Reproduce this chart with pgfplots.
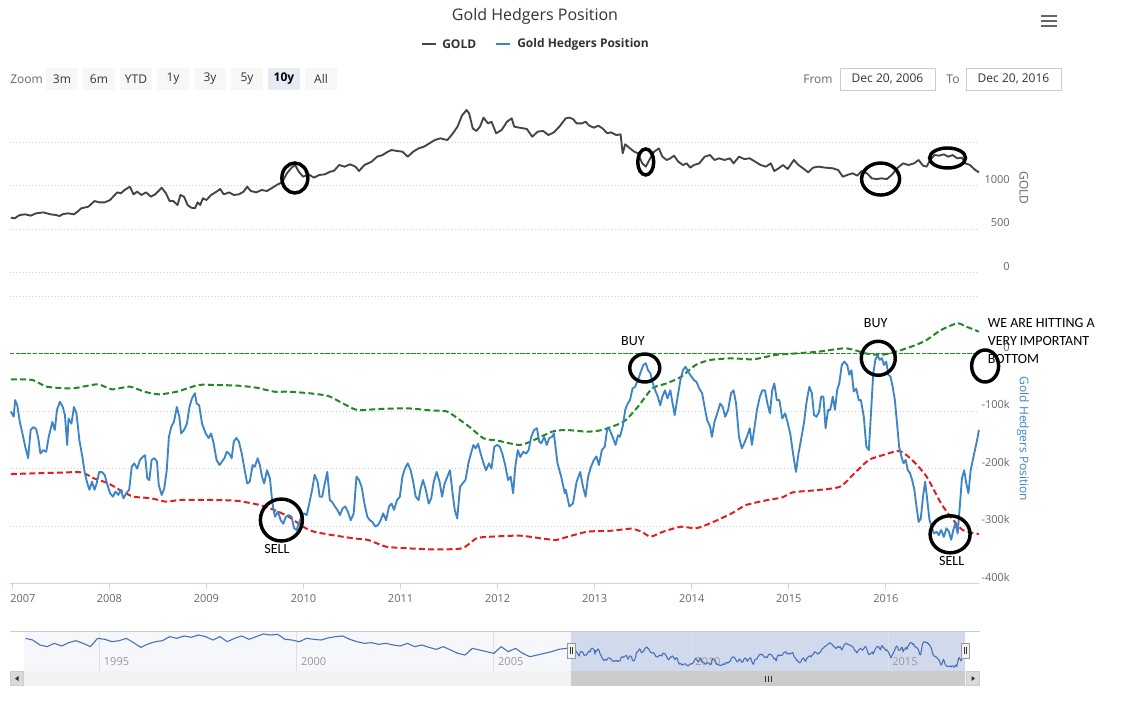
\documentclass[border=0pt]{standalone}
\usepackage{pgfplots}
\pgfplotsset{compat=1.18}
\usepackage{pgfplotstable}
\usepackage{fontspec}
\setmainfont{Open Sans}
\newfontfamily\carlito{Carlito}

\definecolor{titlecol}{HTML}{333333}
\definecolor{labcol}{HTML}{666666}
\definecolor{gridcol}{HTML}{D0D0D0}
\definecolor{navgrid}{HTML}{E0E0E0}
\definecolor{navlab}{HTML}{999999}
\definecolor{goldcol}{HTML}{434348}
\definecolor{hedgecol}{RGB}{61,133,198}
\definecolor{greenband}{RGB}{34,136,34}
\definecolor{zerocol}{RGB}{25,150,25}
\definecolor{redband}{RGB}{226,30,36}
\definecolor{navline}{RGB}{70,110,185}
\definecolor{navsel}{RGB}{209,218,237}
\definecolor{navun}{RGB}{245,247,251}
\definecolor{axiscol}{HTML}{CCD6EB}
\definecolor{btncol}{HTML}{F7F7F7}
\definecolor{btnsel}{HTML}{E6EBF5}
\definecolor{scrollbg}{HTML}{F2F2F2}
\definecolor{thumbcol}{HTML}{CCCCCC}
\definecolor{bordcol}{HTML}{CCCCCC}

% x = years since 2000
\pgfplotstableread[row sep=\\]{
t v\\
6.985 631\\ 7.022 623\\ 7.077 662\\ 7.133 669\\ 7.189 654\\ 7.245 681\\ 7.319 692\\ 7.394 669\\ 7.449 662\\ 7.486 650\\ 7.524 673\\ 7.579 681\\ 7.635 669\\ 7.672 700\\ 7.710 739\\ 7.784 758\\ 7.847 823\\ 7.895 808\\ 7.951 808\\ 8.007 835\\ 8.055 893\\ 8.081 923\\ 8.119 912\\ 8.156 950\\ 8.211 989\\ 8.249 900\\ 8.286 931\\ 8.330 893\\ 8.379 923\\ 8.427 873\\ 8.472 900\\ 8.539 977\\ 8.583 912\\ 8.620 823\\ 8.658 823\\ 8.702 777\\ 8.732 893\\ 8.769 873\\ 8.806 777\\ 8.843 746\\ 8.881 739\\ 8.910 808\\ 8.936 777\\ 8.963 854\\ 9.000 835\\ 9.048 893\\ 9.104 931\\ 9.141 962\\ 9.178 900\\ 9.234 923\\ 9.282 893\\ 9.334 900\\ 9.383 931\\ 9.420 989\\ 9.457 939\\ 9.513 923\\ 9.568 950\\ 9.624 939\\ 9.680 977\\ 9.736 1016\\ 9.780 1039\\ 9.829 1143\\ 9.877 1208\\ 9.914 1239\\ 9.951 1162\\ 9.996 1104\\ 10.052 1131\\ 10.108 1093\\ 10.163 1124\\ 10.219 1131\\ 10.275 1162\\ 10.312 1170\\ 10.368 1239\\ 10.424 1220\\ 10.479 1247\\ 10.535 1220\\ 10.572 1170\\ 10.628 1239\\ 10.702 1277\\ 10.758 1335\\ 10.814 1354\\ 10.870 1393\\ 10.907 1412\\ 10.963 1401\\ 11.019 1393\\ 11.074 1335\\ 11.130 1393\\ 11.186 1431\\ 11.242 1451\\ 11.297 1489\\ 11.353 1527\\ 11.409 1547\\ 11.483 1527\\ 11.539 1605\\ 11.587 1682\\ 11.632 1809\\ 11.680 1874\\ 11.706 1836\\ 11.744 1662\\ 11.781 1632\\ 11.818 1682\\ 11.855 1786\\ 11.900 1720\\ 11.937 1739\\ 11.985 1605\\ 12.041 1643\\ 12.097 1739\\ 12.145 1778\\ 12.171 1682\\ 12.227 1670\\ 12.301 1655\\ 12.357 1566\\ 12.413 1624\\ 12.469 1632\\ 12.524 1585\\ 12.580 1616\\ 12.636 1682\\ 12.702 1778\\ 12.739 1786\\ 12.776 1770\\ 12.814 1720\\ 12.869 1720\\ 12.906 1739\\ 12.944 1693\\ 12.992 1670\\ 13.037 1693\\ 13.081 1662\\ 13.130 1605\\ 13.167 1616\\ 13.223 1585\\ 13.267 1593\\ 13.289 1374\\ 13.315 1478\\ 13.364 1431\\ 13.408 1393\\ 13.446 1374\\ 13.490 1258\\ 13.527 1220\\ 13.576 1324\\ 13.613 1393\\ 13.661 1431\\ 13.698 1335\\ 13.743 1297\\ 13.780 1316\\ 13.817 1347\\ 13.862 1277\\ 13.910 1239\\ 13.948 1258\\ 13.985 1208\\ 14.022 1239\\ 14.078 1258\\ 14.133 1335\\ 14.189 1354\\ 14.234 1297\\ 14.282 1316\\ 14.338 1297\\ 14.394 1316\\ 14.431 1258\\ 14.487 1335\\ 14.542 1308\\ 14.598 1316\\ 14.654 1277\\ 14.710 1239\\ 14.765 1220\\ 14.814 1258\\ 14.851 1170\\ 14.896 1201\\ 14.940 1239\\ 14.989 1193\\ 15.052 1297\\ 15.100 1239\\ 15.156 1193\\ 15.200 1154\\ 15.249 1208\\ 15.305 1220\\ 15.379 1208\\ 15.453 1201\\ 15.509 1181\\ 15.557 1104\\ 15.602 1124\\ 15.658 1143\\ 15.706 1116\\ 15.751 1170\\ 15.806 1143\\ 15.855 1085\\ 15.907 1077\\ 15.955 1085\\ 16.011 1077\\ 16.067 1131\\ 16.115 1201\\ 16.178 1258\\ 16.234 1239\\ 16.290 1258\\ 16.338 1297\\ 16.383 1231\\ 16.420 1220\\ 16.457 1297\\ 16.502 1354\\ 16.550 1347\\ 16.598 1362\\ 16.643 1335\\ 16.688 1354\\ 16.736 1316\\ 16.784 1324\\ 16.821 1258\\ 16.866 1239\\ 16.922 1181\\ 16.959 1154\\
}\golddata

\pgfplotstableread[row sep=\\]{
t v\\
6.985 -101\\ 7.014 -110\\ 7.029 -81\\ 7.051 -90\\ 7.077 -119\\ 7.104 -139\\ 7.133 -162\\ 7.163 -182\\ 7.189 -133\\ 7.215 -128\\ 7.245 -131\\ 7.267 -147\\ 7.289 -174\\ 7.319 -168\\ 7.349 -171\\ 7.375 -145\\ 7.412 -119\\ 7.438 -133\\ 7.460 -98\\ 7.490 -84\\ 7.520 -93\\ 7.542 -107\\ 7.565 -159\\ 7.579 -113\\ 7.609 -122\\ 7.635 -93\\ 7.661 -104\\ 7.691 -151\\ 7.721 -179\\ 7.747 -208\\ 7.773 -226\\ 7.795 -237\\ 7.821 -223\\ 7.847 -237\\ 7.869 -226\\ 7.895 -206\\ 7.921 -206\\ 7.951 -211\\ 7.981 -229\\ 8.007 -243\\ 8.037 -249\\ 8.063 -240\\ 8.092 -246\\ 8.118 -237\\ 8.145 -252\\ 8.174 -243\\ 8.204 -237\\ 8.230 -197\\ 8.256 -191\\ 8.286 -200\\ 8.316 -185\\ 8.342 -180\\ 8.368 -177\\ 8.390 -217\\ 8.412 -220\\ 8.435 -185\\ 8.464 -182\\ 8.490 -188\\ 8.509 -229\\ 8.539 -246\\ 8.565 -235\\ 8.591 -203\\ 8.613 -145\\ 8.639 -127\\ 8.665 -119\\ 8.695 -93\\ 8.721 -110\\ 8.739 -139\\ 8.769 -133\\ 8.799 -122\\ 8.825 -93\\ 8.851 -78\\ 8.881 -69\\ 8.899 -87\\ 8.925 -90\\ 8.955 -122\\ 8.992 -139\\ 9.022 -147\\ 9.048 -139\\ 9.074 -156\\ 9.104 -185\\ 9.134 -194\\ 9.160 -188\\ 9.186 -182\\ 9.208 -171\\ 9.234 -174\\ 9.260 -182\\ 9.282 -153\\ 9.308 -147\\ 9.334 -153\\ 9.364 -174\\ 9.394 -203\\ 9.420 -226\\ 9.446 -223\\ 9.476 -194\\ 9.498 -197\\ 9.528 -182\\ 9.550 -194\\ 9.572 -214\\ 9.595 -226\\ 9.624 -203\\ 9.654 -217\\ 9.680 -261\\ 9.706 -284\\ 9.736 -275\\ 9.766 -290\\ 9.792 -296\\ 9.818 -284\\ 9.847 -281\\ 9.877 -284\\ 9.903 -304\\ 9.929 -307\\ 9.951 -296\\ 9.978 -284\\ 10.004 -278\\ 10.033 -281\\ 10.059 -261\\ 10.089 -237\\ 10.115 -211\\ 10.145 -223\\ 10.167 -249\\ 10.193 -249\\ 10.219 -226\\ 10.245 -206\\ 10.271 -255\\ 10.294 -258\\ 10.323 -266\\ 10.349 -272\\ 10.375 -281\\ 10.405 -269\\ 10.431 -266\\ 10.457 -275\\ 10.487 -290\\ 10.517 -278\\ 10.546 -214\\ 10.572 -220\\ 10.599 -232\\ 10.628 -261\\ 10.658 -284\\ 10.684 -290\\ 10.710 -293\\ 10.740 -301\\ 10.769 -298\\ 10.795 -290\\ 10.821 -278\\ 10.851 -290\\ 10.881 -266\\ 10.907 -261\\ 10.933 -272\\ 10.963 -255\\ 10.993 -249\\ 11.019 -214\\ 11.045 -200\\ 11.074 -191\\ 11.104 -203\\ 11.130 -223\\ 11.156 -249\\ 11.186 -255\\ 11.204 -237\\ 11.231 -220\\ 11.260 -237\\ 11.290 -261\\ 11.316 -252\\ 11.342 -223\\ 11.372 -206\\ 11.402 -223\\ 11.428 -249\\ 11.454 -226\\ 11.483 -214\\ 11.509 -203\\ 11.532 -237\\ 11.558 -272\\ 11.584 -287\\ 11.613 -232\\ 11.639 -226\\ 11.669 -220\\ 11.699 -191\\ 11.725 -174\\ 11.751 -159\\ 11.773 -165\\ 11.799 -157\\ 11.825 -174\\ 11.855 -191\\ 11.881 -203\\ 11.911 -191\\ 11.937 -200\\ 11.966 -162\\ 11.996 -159\\ 12.022 -162\\ 12.048 -174\\ 12.078 -194\\ 12.108 -220\\ 12.134 -214\\ 12.160 -243\\ 12.182 -197\\ 12.208 -168\\ 12.234 -180\\ 12.264 -171\\ 12.294 -174\\ 12.320 -168\\ 12.346 -145\\ 12.376 -133\\ 12.405 -130\\ 12.428 -153\\ 12.450 -156\\ 12.480 -145\\ 12.506 -159\\ 12.532 -147\\ 12.561 -145\\ 12.580 -139\\ 12.617 -191\\ 12.655 -214\\ 12.692 -243\\ 12.702 -237\\ 12.739 -266\\ 12.776 -261\\ 12.814 -223\\ 12.851 -206\\ 12.880 -232\\ 12.906 -249\\ 12.933 -214\\ 12.962 -197\\ 12.992 -185\\ 13.018 -179\\ 13.044 -194\\ 13.074 -168\\ 13.104 -162\\ 13.130 -130\\ 13.156 -133\\ 13.185 -145\\ 13.215 -159\\ 13.241 -142\\ 13.260 -145\\ 13.289 -127\\ 13.315 -98\\ 13.341 -87\\ 13.364 -81\\ 13.390 -61\\ 13.416 -58\\ 13.446 -46\\ 13.475 -32\\ 13.501 -20\\ 13.527 -17\\ 13.550 -29\\ 13.576 -35\\ 13.594 -49\\ 13.624 -64\\ 13.650 -75\\ 13.676 -90\\ 13.698 -75\\ 13.724 -64\\ 13.750 -78\\ 13.780 -64\\ 13.803 -87\\ 13.825 -107\\ 13.855 -75\\ 13.884 -46\\ 13.910 -29\\ 13.936 -23\\ 13.966 -32\\ 13.996 -40\\ 14.022 -46\\ 14.048 -49\\ 14.078 -61\\ 14.107 -69\\ 14.133 -93\\ 14.159 -116\\ 14.189 -127\\ 14.208 -145\\ 14.234 -119\\ 14.263 -104\\ 14.293 -87\\ 14.319 -93\\ 14.345 -110\\ 14.375 -98\\ 14.405 -69\\ 14.431 -64\\ 14.457 -87\\ 14.487 -145\\ 14.516 -165\\ 14.542 -156\\ 14.568 -145\\ 14.598 -130\\ 14.620 -159\\ 14.643 -133\\ 14.672 -98\\ 14.702 -75\\ 14.728 -64\\ 14.754 -64\\ 14.784 -90\\ 14.806 -104\\ 14.829 -64\\ 14.851 -52\\ 14.877 -81\\ 14.903 -81\\ 14.933 -113\\ 14.963 -104\\ 14.989 -121\\ 15.015 -139\\ 15.044 -174\\ 15.074 -206\\ 15.100 -174\\ 15.126 -150\\ 15.156 -121\\ 15.186 -81\\ 15.212 -58\\ 15.238 -69\\ 15.260 -107\\ 15.286 -110\\ 15.312 -101\\ 15.334 -75\\ 15.357 -75\\ 15.379 -130\\ 15.405 -98\\ 15.427 -98\\ 15.453 -75\\ 15.476 -98\\ 15.498 -64\\ 15.520 -52\\ 15.546 -20\\ 15.572 -14\\ 15.602 -20\\ 15.624 -37\\ 15.646 -29\\ 15.669 -66\\ 15.695 -61\\ 15.721 -81\\ 15.743 -81\\ 15.773 -110\\ 15.799 -162\\ 15.825 -168\\ 15.847 -104\\ 15.870 -35\\ 15.892 -11\\ 15.914 -3\\ 15.937 -11\\ 15.959 -8\\ 15.981 -20\\ 16.004 -14\\ 16.026 -37\\ 16.048 -40\\ 16.070 -58\\ 16.093 -81\\ 16.115 -121\\ 16.137 -162\\ 16.160 -179\\ 16.182 -191\\ 16.204 -185\\ 16.227 -203\\ 16.249 -208\\ 16.271 -220\\ 16.294 -237\\ 16.316 -266\\ 16.338 -293\\ 16.360 -287\\ 16.383 -249\\ 16.405 -223\\ 16.427 -255\\ 16.450 -290\\ 16.472 -301\\ 16.494 -313\\ 16.524 -310\\ 16.546 -316\\ 16.569 -307\\ 16.598 -319\\ 16.624 -304\\ 16.650 -310\\ 16.673 -324\\ 16.695 -307\\ 16.717 -295\\ 16.740 -313\\ 16.762 -266\\ 16.784 -217\\ 16.807 -203\\ 16.829 -226\\ 16.851 -243\\ 16.874 -203\\ 16.896 -185\\ 16.918 -168\\ 16.941 -150\\ 16.959 -133\\
}\hedgedata

\pgfplotstableread[row sep=\\]{
t v\\
6.985 -44.9\\ 7.208 -46.1\\ 7.356 -57.7\\ 7.617 -60.6\\ 7.877 -53.6\\ 8.026 -62.3\\ 8.211 -57.7\\ 8.360 -66.4\\ 8.509 -71.0\\ 8.695 -66.4\\ 8.918 -54.8\\ 9.104 -54.8\\ 9.327 -55.9\\ 9.513 -59.4\\ 9.699 -66.4\\ 9.847 -66.4\\ 10.070 -69.3\\ 10.256 -73.9\\ 10.405 -86.7\\ 10.554 -98.3\\ 10.777 -96.5\\ 11.074 -95.4\\ 11.335 -99.4\\ 11.483 -101.2\\ 11.706 -127.2\\ 11.855 -147.5\\ 12.004 -151.6\\ 12.227 -159.1\\ 12.376 -150.4\\ 12.561 -135.9\\ 12.703 -133.0\\ 12.925 -135.9\\ 13.074 -133.0\\ 13.297 -118.6\\ 13.446 -92.5\\ 13.594 -60.6\\ 13.743 -51.9\\ 13.892 -40.3\\ 14.040 -20.0\\ 14.189 -11.3\\ 14.412 -8.4\\ 14.635 -10.1\\ 14.858 -2.6\\ 15.082 0.3\\ 15.305 3.2\\ 15.565 9.0\\ 15.676 6.1\\ 15.788 0.3\\ 15.937 -2.6\\ 16.048 0.3\\ 16.160 6.1\\ 16.309 14.8\\ 16.420 23.5\\ 16.569 40.9\\ 16.736 52.5\\ 16.829 46.7\\ 16.959 38.0\\
}\greendata

\pgfplotstableread[row sep=\\]{
t v\\
6.985 -209.6\\ 7.245 -208.4\\ 7.468 -207.3\\ 7.710 -206.7\\ 7.840 -217.1\\ 7.988 -225.8\\ 8.137 -240.3\\ 8.249 -249.0\\ 8.435 -251.9\\ 8.583 -257.7\\ 8.732 -254.8\\ 9.104 -254.8\\ 9.327 -256.5\\ 9.550 -263.5\\ 9.699 -272.2\\ 9.847 -283.8\\ 9.996 -301.2\\ 10.107 -309.9\\ 10.294 -315.7\\ 10.517 -321.5\\ 10.665 -324.3\\ 10.851 -335.9\\ 11.074 -338.8\\ 11.335 -340.6\\ 11.632 -338.8\\ 11.781 -321.5\\ 11.930 -318.6\\ 12.227 -316.8\\ 12.450 -321.5\\ 12.599 -324.3\\ 12.702 -319.7\\ 12.925 -309.9\\ 13.185 -308.1\\ 13.371 -304.6\\ 13.483 -309.9\\ 13.576 -318.6\\ 13.706 -309.9\\ 13.892 -301.2\\ 14.040 -304.1\\ 14.189 -295.4\\ 14.412 -278.0\\ 14.561 -263.5\\ 14.784 -254.8\\ 14.933 -250.2\\ 15.044 -241.4\\ 15.305 -237.4\\ 15.528 -231.6\\ 15.676 -208.4\\ 15.825 -185.2\\ 15.974 -176.5\\ 16.141 -169.6\\ 16.271 -185.2\\ 16.420 -214.2\\ 16.569 -260.6\\ 16.680 -286.7\\ 16.792 -307.0\\ 16.959 -313.9\\
}\reddata

\pgfplotstableread[row sep=\\]{
t v\\
-6.882 39\\ -6.699 18\\ -6.517 -44\\ -6.334 -65\\ -6.151 -23\\ -5.968 -57\\ -5.785 -15\\ -5.603 10\\ -5.420 -23\\ -5.237 -65\\ -5.054 39\\ -4.871 27\\ -4.689 -3\\ -4.506 10\\ -4.323 39\\ -4.140 -15\\ -3.958 -74\\ -3.775 -32\\ -3.592 -3\\ -3.409 10\\ -3.226 60\\ -3.043 39\\ -2.861 69\\ -2.678 52\\ -2.495 81\\ -2.312 60\\ -2.129 18\\ -1.947 60\\ -1.764 -3\\ -1.581 39\\ -1.398 69\\ -1.215 27\\ -1.033 60\\ -0.850 94\\ -0.667 81\\ -0.484 90\\ -0.301 27\\ -0.119 18\\ 0.064 -3\\ 0.247 39\\ 0.430 27\\ 0.613 18\\ 0.795 44\\ 0.978 60\\ 1.161 69\\ 1.344 27\\ 1.527 -3\\ 1.709 -23\\ 1.892 -15\\ 2.075 -36\\ 2.258 -23\\ 2.441 -44\\ 2.623 -57\\ 2.806 -23\\ 2.989 -65\\ 3.172 -44\\ 3.355 -74\\ 3.537 -99\\ 3.720 -65\\ 3.903 -107\\ 4.086 -149\\ 4.269 -170\\ 4.451 -86\\ 4.634 -107\\ 4.817 -128\\ 5.000 -149\\ 5.183 -65\\ 5.365 -128\\ 5.548 -86\\ 5.731 -149\\ 5.914 -191\\ 6.097 -170\\ 6.279 -149\\ 6.462 -128\\ 6.645 -99\\ 6.828 -86\\ 6.985 -101\\
}\navpre

\newcommand\fxi{\fontsize{8.25}{10}\selectfont}
\newcommand\fxii{\fontsize{9}{11}\selectfont}

\begin{document}
\begin{tikzpicture}
\useasboundingbox (0,0) rectangle (849pt,-525pt);

% ---------- navigator / scrollbar backgrounds (pixel coordinates) ----------
\begin{scope}[x=0.75pt,y=-0.75pt]
  \fill[navun] (24,631) rectangle (571,671);
  \fill[navsel] (571,631) rectangle (965,671);
  \fill[scrollbg] (10,671) rectangle (980,686);
  \fill[thumbcol] (571,671) rectangle (965,686);
  \filldraw[fill=scrollbg!90!black, draw=bordcol, line width=0.75pt] (10.5,671.5) rectangle (23.5,685.5);
  \filldraw[fill=scrollbg!90!black, draw=bordcol, line width=0.75pt] (966.5,671.5) rectangle (979.5,685.5);
  \fill[titlecol] (15,678.5) -- (18.5,676) -- (18.5,681) -- cycle;
  \fill[titlecol] (975,678.5) -- (971.5,676) -- (971.5,681) -- cycle;
  \foreach \gx in {765,768,771} \draw[titlecol, line width=0.6pt] (\gx,675.5) -- (\gx,682);
\end{scope}

% ---------- top pane: GOLD ----------
\begin{axis}[
  at={(7.5pt,-204.225pt)}, anchor=south west,
  scale only axis, width=726.75pt, height=129.9pt,
  xmin=6.976, xmax=16.96, ymin=0, ymax=2000,
  clip=false,
  axis line style={draw=none},
  xtick=\empty,
  ytick={0,500,1000,1500}, yticklabels={0,500,1000,{}},
  yticklabel pos=right,
  y tick style={draw=none}, major tick length=0pt,
  yticklabel style={anchor=base east, inner sep=0pt, xshift=23.25pt, yshift=1.6pt},
  ymajorgrids, major grid style={gridcol, dotted, line width=0.75pt},
  tick label style={font=\fxi, text=labcol},
]
\addplot[goldcol, line width=1.4pt, line join=round] table[x=t, y=v] {\golddata};
\draw[black, line width=2.6pt] (axis cs:9.911,1089) ellipse [x radius=9.75pt, y radius=11.25pt];
\draw[black, line width=2.6pt] (axis cs:13.526,1274) ellipse [x radius=6pt, y radius=9.75pt];
\draw[black, line width=2.6pt] (axis cs:15.946,1077) ellipse [x radius=14.25pt, y radius=12pt];
\draw[black, line width=2.6pt] (axis cs:16.636,1320) ellipse [x radius=13.5pt, y radius=7.5pt];
\end{axis}

% ---------- bottom pane: Gold Hedgers Position ----------
\begin{axis}[
  at={(7.5pt,-437.625pt)}, anchor=south west,
  scale only axis, width=726.75pt, height=215.625pt,
  xmin=6.976, xmax=16.96, ymin=-400, ymax=100,
  clip=false,
  axis x line*=bottom, axis y line*=right,
  x axis line style={axiscol, line width=0.75pt, -},
  y axis line style={draw=none},
  xtick={8,9,10,11,12,13,14,15,16},
  xticklabels={2008,2009,2010,2011,2012,2013,2014,2015,2016},
  extra x ticks={7}, extra x tick labels={2007},
  extra x tick style={xticklabel style={anchor=base west, xshift=-1.7pt}},
  xtick align=outside,
  x tick style={axiscol, line width=0.75pt},
  major tick length=4pt,
  xticklabel style={anchor=base, inner sep=0pt, yshift=-10.2pt},
  ytick={100,0,-100,-200,-300,-400},
  yticklabels={{},0,-100k,-200k,-300k,-400k},
  y tick style={draw=none},
  yticklabel style={anchor=base east, inner sep=0pt, xshift=23.25pt, yshift=1.6pt},
  ymajorgrids, major grid style={gridcol, dotted, line width=0.75pt},
  tick label style={font=\fxi, text=labcol},
]
\draw[zerocol, line width=1.4pt, dash pattern=on 3.2pt off 1.1pt] (axis cs:6.976,0) -- (axis cs:16.96,0);
\addplot[greenband, line width=1.5pt, dash pattern=on 4.5pt off 2.4pt, smooth, tension=0.4] table[x=t, y=v] {\greendata};
\addplot[redband, line width=1.5pt, dash pattern=on 4.5pt off 2.4pt, smooth, tension=0.4] table[x=t, y=v] {\reddata};
\addplot[hedgecol, line width=1.4pt, line join=round] table[x=t, y=v] {\hedgedata};
% hand-drawn annotations
\draw[black, line width=2.6pt] (axis cs:9.772,-289.6) ellipse [x radius=15.75pt, y radius=15.75pt];
\draw[black, line width=2.6pt] (axis cs:13.516,-25.2) ellipse [x radius=11.25pt, y radius=10.5pt];
\draw[black, line width=2.6pt] (axis cs:15.922,-8.3) ellipse [x radius=12.75pt, y radius=12.75pt];
\draw[black, line width=2.6pt] (axis cs:17.023,-21.7) ellipse [x radius=10.1pt, y radius=12pt];
\draw[black, line width=2.6pt] (axis cs:16.662,-314.4) ellipse [x radius=15pt, y radius=13.9pt];
\node[font=\carlito\fontsize{10.5}{12}\selectfont] at (axis cs:13.394,21.7) {BUY};
\node[font=\carlito\fontsize{10.5}{12}\selectfont] at (axis cs:15.895,53.0) {BUY};
\node[font=\carlito\fontsize{10.5}{12}\selectfont] at (axis cs:9.726,-340) {SELL};
\node[font=\carlito\fontsize{10.5}{12}\selectfont] at (axis cs:16.678,-360.9) {SELL};
\node[font=\carlito\fontsize{10.5}{12}\selectfont, anchor=west, inner sep=0pt] at (axis cs:17.048,53.0) {WE ARE HITTING A};
\node[font=\carlito\fontsize{10.5}{12}\selectfont, anchor=west, inner sep=0pt] at (axis cs:17.048,21.7) {VERY IMPORTANT};
\node[font=\carlito\fontsize{10.5}{12}\selectfont, anchor=west, inner sep=0pt] at (axis cs:17.048,-9.6) {BOTTOM};
\end{axis}

% ---------- navigator ----------
\begin{axis}[
  at={(18pt,-503.25pt)}, anchor=south west,
  scale only axis, width=705.75pt, height=30pt,
  xmin=-6.92, xmax=16.95, ymin=-370, ymax=131,
  axis line style={draw=none},
  ytick=\empty,
  xtick={-5,0,5,10,15}, xticklabels={1995,2000,2005,2010,2015},
  xmajorgrids, major grid style={navgrid, line width=0.75pt},
  major tick length=0pt,
  xticklabel style={anchor=base west, inner sep=0pt, xshift=3pt, yshift=4.5pt, font=\fxi, text=navlab},
]
\addplot[navline, line width=0.8pt, line join=round] table[x=t, y=v] {\navpre};
\addplot[navline, line width=0.8pt, line join=round] table[x=t, y=v] {\hedgedata};
\end{axis}

% ---------- overlays, text (pixel coordinates) ----------
\begin{scope}[x=0.75pt,y=-0.75pt]
  \draw[bordcol, line width=0.75pt] (10,631) -- (980,631);
  % handles
  \foreach \hx in {571,965} {
    \filldraw[fill=scrollbg, draw=navlab, line width=0.75pt] (\hx-4,643) rectangle (\hx+4,658);
    \draw[titlecol, line width=0.5pt] (\hx-1,647) -- (\hx-1,654) (\hx+1,647) -- (\hx+1,654);
  }
  % title
  \node[font=\fontsize{12}{14}\selectfont, text=titlecol] at (535,16) {Gold Hedgers Position};
  % legend
  \draw[goldcol, line width=1.5pt] (422,44) -- (436,44);
  \node[font=\fxii\bfseries, text=titlecol, anchor=west, inner sep=0pt] at (442,44) {GOLD};
  \draw[hedgecol, line width=1.5pt] (496,44) -- (510,44);
  \node[font=\fxii\bfseries, text=titlecol, anchor=west, inner sep=0pt] at (517,44) {Gold Hedgers Position};
  % hamburger
  \foreach \hy in {16,21,26} \fill[labcol] (1041,\hy-1.3) rectangle (1057,\hy+1.3);
  % zoom buttons
  \node[font=\fxii, text=labcol, anchor=west, inner sep=0pt] at (10,79) {Zoom};
  \foreach \lab [count=\i from 0] in {3m,6m,YTD,1y,3y,5y} {
    \fill[btncol] (46+37*\i,68) rectangle (78+37*\i,90);
    \node[font=\fxii, text=titlecol] at (62+37*\i,79) {\lab};
  }
  \fill[btnsel] (268,68) rectangle (300,90);
  \node[font=\fxii\bfseries, text=black] at (284,79) {10y};
  \fill[btncol] (305,68) rectangle (337,90);
  \node[font=\fxii, text=titlecol] at (321,79) {All};
  % from / to
  \node[font=\fxii, text=labcol] at (818,79) {From};
  \draw[bordcol, line width=0.75pt] (840,68) rectangle (935,90);
  \node[font=\fxii, text=titlecol] at (887.5,79) {Dec 20, 2006};
  \node[font=\fxii, text=labcol] at (953,79) {To};
  \draw[bordcol, line width=0.75pt] (966,68) rectangle (1061,90);
  \node[font=\fxii, text=titlecol] at (1013.5,79) {Dec 20, 2016};
  % axis titles
  \node[font=\fxii, text=labcol, rotate=-90] at (1024,188) {GOLD};
  \node[font=\fxii, text=hedgecol, rotate=-90] at (1023,439) {Gold Hedgers Position};
\end{scope}
\end{tikzpicture}
\end{document}
